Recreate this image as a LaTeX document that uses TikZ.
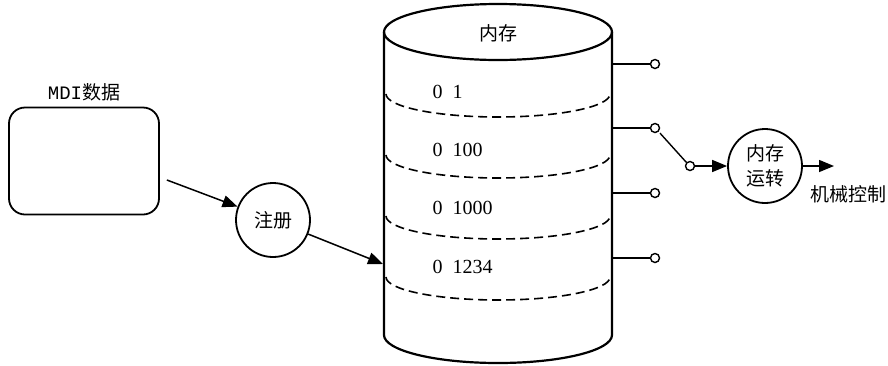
\documentclass[tikz,border=0pt]{standalone}
\usepackage{fontspec}
\setmainfont{Liberation Serif}
\newfontfamily\cjk{Noto Sans CJK SC}
\newfontfamily\monof{Liberation Mono}
\usetikzlibrary{arrows.meta,positioning,calc}
\tikzset{
  arr/.style={-{Triangle[length=15pt,width=12pt]}, line width=1.5pt},
  tap/.style={circle, draw, fill=white, line width=1.4pt, inner sep=0pt, minimum size=9pt},
  ball/.style={circle, draw, line width=1.8pt, minimum size=74pt, inner sep=0pt, font=\cjk\fontsize{19}{25}\selectfont, align=center},
  lbl/.style={font=\cjk\fontsize{19}{22}\selectfont},
  num/.style={font=\fontsize{20}{22}\selectfont, anchor=west},
}
\begin{document}
\begin{tikzpicture}[x=1pt,y=-1pt]
    \useasboundingbox (0,0) rectangle (888,365);

    % memory drum
    \draw[line width=2.2pt] (498,32) ellipse [x radius=114, y radius=28];
    \draw[line width=2.2pt] (384,32) -- (384,335) arc[start angle=180, end angle=0, x radius=114, y radius=28] -- (612,32);
    \foreach \y in {94,155,216,277}
        \draw[line width=1.6pt, dash pattern=on 9pt off 5pt] (386,\y) arc[start angle=180, end angle=0, x radius=112, y radius=23];
    \node[lbl] (memt) at (498,33) {内存};
    \node[num] (d1) at (429,92) {0\enspace 1};
    \node[num] (d2) at (429,150) {0\enspace 100};
    \node[num] (d3) at (429,208) {0\enspace 1000};
    \node[num] (d4) at (429,267) {0\enspace 1234};

    \foreach \y [count=\i] in {64,128,193,258} {
        \coordinate (s\i) at (612,\y);
        \node[tap] (t\i) at (655,\y) {};
        \draw[line width=1.4pt] (s\i) -- (t\i);
    }

    % selector and run
    \node[tap] (sw) at (690,166) {};
    \draw[line width=1.4pt, shorten <=2pt] (t2.south east) -- (sw.north west);
    \node[ball] (run) at (765,166) {内存\\运转};
    \draw[arr] (sw) -- (run);
    \coordinate (out) at (834,166);
    \draw[arr] (run) -- (out);
    \node[lbl] (ctl) at (848,194) {机械控制};

    % input side
    \node[draw, line width=1.8pt, rounded corners=16pt, minimum width=150pt, minimum height=107pt] (mdi) at (84,161) {};
    \node[lbl] (mdit) at (84,92) {{\monof MDI}数据};
    \node[ball] (reg) at (273,220) {注册};
    \draw[arr] ([shift={(7,19)}]mdi.east) -- (reg);
    \coordinate (memin) at (383,264);
    \draw[arr] (reg) -- (memin);
\end{tikzpicture}
\end{document}
